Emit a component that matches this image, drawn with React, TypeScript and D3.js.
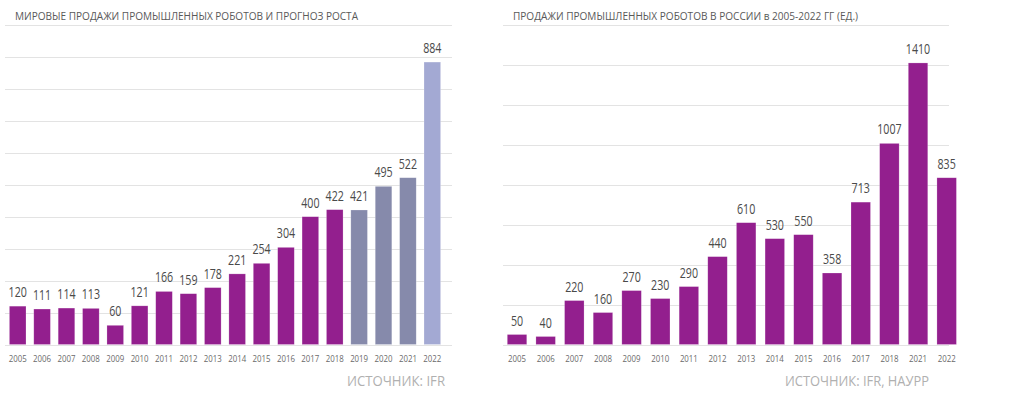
import * as d3 from "d3";

const worldYears = ["2005","2006","2007","2008","2009","2010","2011","2012","2013","2014","2015","2016","2017","2018","2019","2020","2021","2022"];
const worldSales = [120, 111, 114, 113, 60, 121, 166, 159, 178, 221, 254, 304, 400, 422, 421, 495, 522, 884];
// 0 = fact, 1 = estimate, 2 = forecast
const worldKind = [0,0,0,0,0,0,0,0,0,0,0,0,0,0,1,1,1,2];

const ruYears = ["2005","2006","2007","2008","2009","2010","2011","2012","2013","2014","2015","2016","2017","2018","2021","2022"];
const ruSales = [50, 40, 220, 160, 270, 230, 290, 440, 610, 530, 550, 358, 713, 1007, 1410, 835];

const kindColors = ["#931f8e", "#868aab", "#a3a9d3"];
const FONT = "'Open Sans', 'Noto Sans', sans-serif";

type PanelProps = {
  title: string;
  titleWidth: number;
  titleX: number;
  source: string;
  sourceWidth: number;
  sourceRight: number;
  years: string[];
  values: number[];
  colors: string[];
  max: number;
  step: number;
  x0: number;
  x1: number;
  gridX0: number;
  gridX1: number;
};

function Panel(p: PanelProps) {
  const top = 25;
  const base = 344.5;
  const x = d3.scaleBand<string>().domain(p.years).range([p.x0, p.x1]).paddingInner(0.32).paddingOuter(0.16);
  const y = d3.scaleLinear().domain([0, p.max]).range([base, top]);
  const ticks = d3.range(0, p.max + p.step, p.step);
  return (
    <g>
      <text x={p.titleX} y={20} fontFamily={FONT} fontSize={10} fill="#595959" textLength={p.titleWidth} lengthAdjust="spacingAndGlyphs">
        {p.title}
      </text>
      {ticks.map((t) => (
        <line key={t} x1={p.gridX0} x2={p.gridX1} y1={Math.round(y(t)) + 0.5} y2={Math.round(y(t)) + 0.5} stroke="#e3e3e3" strokeWidth={1} />
      ))}
      {p.years.map((yr, i) => {
        const v = p.values[i];
        const bx = x(yr)!;
        const bw = x.bandwidth();
        const label = String(v);
        return (
          <g key={yr}>
            <rect x={bx} y={y(v)} width={bw} height={base - y(v)} fill={p.colors[i]} stroke="#ffffff" strokeOpacity={0.35} strokeWidth={0.6} />
            <text x={bx + bw / 2} y={y(v) - 9} textAnchor="middle" fontFamily={FONT} fontSize={14.5} fill="#4a4a4a" textLength={label.length * 6.1} lengthAdjust="spacingAndGlyphs">
              {label}
            </text>
            <text x={bx + bw / 2} y={362} textAnchor="middle" fontFamily={FONT} fontSize={9} fill="#6a6a6a" textLength={18} lengthAdjust="spacingAndGlyphs">
              {yr}
            </text>
          </g>
        );
      })}
      <text x={p.sourceRight} y={386} textAnchor="end" fontFamily={FONT} fontSize={15} fill="#b0b0b0" textLength={p.sourceWidth} lengthAdjust="spacingAndGlyphs">
        {p.source}
      </text>
    </g>
  );
}

export default function App() {
  return (
    <svg width={1024} height={394} style={{ position: "absolute", left: 0, top: 0, background: "#fff" }}>
      <Panel
        title="МИРОВЫЕ ПРОДАЖИ ПРОМЫШЛЕННЫХ РОБОТОВ И ПРОГНОЗ РОСТА"
        titleWidth={343}
        titleX={15}
        source="ИСТОЧНИК: IFR"
        sourceWidth={98}
        sourceRight={445}
        years={worldYears}
        values={worldSales}
        colors={worldKind.map((k) => kindColors[k])}
        max={1000}
        step={100}
        x0={5.5}
        x1={444.5}
        gridX0={5}
        gridX1={452}
      />
      <Panel
        title="ПРОДАЖИ ПРОМЫШЛЕННЫХ РОБОТОВ В РОССИИ в 2005-2022 ГГ (ЕД.)"
        titleWidth={345}
        titleX={513}
        source="ИСТОЧНИК: IFR, НАУРР"
        sourceWidth={144}
        sourceRight={929}
        years={ruYears}
        values={ruSales}
        colors={ruSales.map(() => kindColors[0])}
        max={1600}
        step={200}
        x0={502.7}
        x1={961}
        gridX0={503}
        gridX1={949}
      />
    </svg>
  );
}
